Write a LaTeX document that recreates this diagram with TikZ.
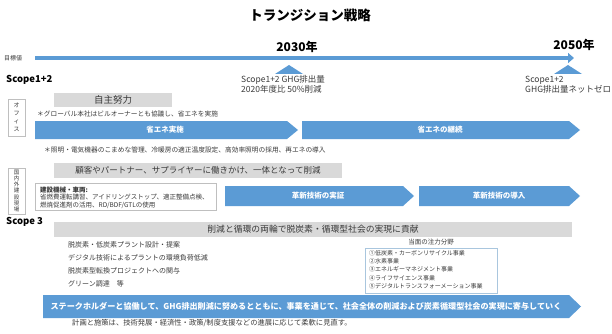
\documentclass[tikz,border=0pt]{standalone}
\usepackage{fontspec}
\setmainfont{Noto Sans CJK JP}
\usetikzlibrary{arrows.meta}
\definecolor{ablue}{HTML}{5B9BD5}
\definecolor{agray}{HTML}{D9D9D9}
\definecolor{bgray}{HTML}{BFBFBF}
\definecolor{lblue}{HTML}{A9C6DE}
\definecolor{tgray}{HTML}{3A3A3A}
\newcommand{\myfs}[1]{\fontsize{#1}{#1}\selectfont}
\newcommand{\mychev}[5]{\fill[ablue] (#1,#3) -- ({#2-#5},#3) -- (#2,{(#3+#4)/2}) -- ({#2-#5},#4) -- (#1,#4) -- cycle;}
\tikzset{
  lbl/.style={inner sep=0pt, anchor=west, text=tgray},
  graybox/.style={fill=agray, inner sep=0pt, text=tgray},
  sidebox/.style={draw=bgray, line width=0.6pt, fill=white, inner sep=0pt, text=tgray, align=center},
  arrowlbl/.style={inner sep=0pt, text=white, font=\myfs{7.5}\bfseries},
  head/.style={inner sep=0pt, text=black}
}
\begin{document}
\begin{tikzpicture}[x=1pt,y=-1pt]
\useasboundingbox (0,0) rectangle (612,334);
% title
\node[head, font=\myfs{13.5}\bfseries] (title) at (310,15) {トランジション戦略};
% timeline
\node[lbl, font=\myfs{6}] (goal) at (4,58) {目標値};
\coordinate (tl0) at (35,58);
\coordinate (tl1) at (574,58);
\draw[ablue, line width=4.5pt, -{Triangle[length=6pt,width=10pt]}] (tl0) -- (tl1);
\node[head, font=\myfs{12}\bfseries] (y2030) at (297,47) {2030年};
\node[head, font=\myfs{12}\bfseries] (y2050) at (574,45) {2050年};
\fill[ablue] (275,74) -- (289,65) -- (303,74) -- cycle;
\fill[ablue] (554,74) -- (568,65) -- (582,74) -- cycle;
\node[lbl, font=\fontsize{8.5}{10.5}\selectfont, align=left] (t2030) at (241,84.5) {Scope1+2 GHG排出量\\2020年度比 50\%削減};
\node[lbl, font=\fontsize{8.5}{10.5}\selectfont, align=left] (t2050) at (525,84.5) {Scope1+2\\GHG排出量ネットゼロ};
% Scope1+2
\node[head, anchor=west, font=\myfs{9.5}\bfseries] (s12) at (6,80) {Scope1+2};
\node[sidebox, minimum width=17pt, minimum height=37pt, font=\fontsize{6}{8}\selectfont] (office) at (16.5,117.5) {オ\\フ\\ィ\\ス};
\node[graybox, minimum width=118pt, minimum height=14pt, font=\myfs{9.5}] (jishu) at (113,100) {自主努力};
\node[lbl, font=\myfs{6.7}] (note1) at (37,114) {＊グローバル本社はビルオーナーとも協議し、省エネを実施};
\mychev{35}{298}{121}{139}{11}
\node[arrowlbl] (a1) at (165,130) {省エネ実施};
\mychev{302}{580}{121}{139}{11}
\node[arrowlbl] (a2) at (440,130) {省エネの継続};
\node[lbl, font=\myfs{6.7}] (note2) at (44,150) {＊照明・電気機器のこまめな管理、冷暖房の適正温度設定、高効率照明の採用、再エネの導入};
% site
\node[sidebox, minimum width=17pt, minimum height=46pt, font=\fontsize{5.5}{6.2}\selectfont] (site) at (16.5,191) {国\\内\\外\\建\\設\\現\\場};
\node[graybox, minimum width=288pt, minimum height=15pt, font=\myfs{8.5}] (kokyaku) at (198,170.5) {顧客やパートナー、サプライヤーに働きかけ、一体となって削減};
\node[sidebox, minimum width=181pt, minimum height=27pt] (kikai) at (125.5,197) {};
\node[lbl, anchor=north west, align=left, font=\fontsize{6.5}{7.6}\selectfont] (kikait) at (40,186.5) {\textbf{建設機械・車両:}\\省燃費運転講習、アイドリングストップ、適正整備点検、\\燃焼促進剤の活用、RD/BDF/GTLの使用};
\mychev{225}{414}{186}{206}{11}
\node[arrowlbl] (a3) at (318,196) {革新技術の実証};
\mychev{419}{580}{186}{206}{11}
\node[arrowlbl] (a4) at (499,196) {革新技術の導入};
% Scope 3
\node[head, anchor=west, font=\myfs{9.5}\bfseries] (s3) at (6,222) {Scope 3};
\node[graybox, minimum width=518pt, minimum height=15pt, font=\myfs{8.8}] (junkan) at (313,229.5) {削減と循環の両輪で脱炭素・循環型社会の実現に貢献};
\node[lbl, font=\myfs{7}] (l1) at (68,245) {脱炭素・低炭素プラント設計・提案};
\node[lbl, font=\myfs{7}] (l2) at (68,258) {デジタル技術によるプラントの環境負荷低減};
\node[lbl, font=\myfs{7}] (l3) at (68,271) {脱炭素型転換プロジェクトへの関与};
\node[lbl, font=\myfs{7}] (l4) at (68,284) {グリーン調達　等};
\node[head, text=tgray, font=\myfs{6.5}] (focus) at (431,242.5) {当面の注力分野};
\node[draw=lblue, line width=0.7pt, inner sep=0pt, minimum width=132pt, minimum height=45pt] (fbox) at (431,270.5) {};
\node[lbl, anchor=north west, align=left, font=\fontsize{6}{8.1}\selectfont] (flist) at (369,250.5) {①低炭素・カーボンリサイクル事業\\②水素事業\\③エネルギーマネジメント事業\\④ライフサイエンス事業\\⑤デジタルトランスフォーメーション事業};
\mychev{43}{581}{295}{318}{12}
\node[arrowlbl, font=\myfs{8.1}\bfseries] (a5) at (306,306.5) {ステークホルダーと協働して、GHG排出削減に努めるとともに、事業を通じて、社会全体の削減および炭素循環型社会の実現に寄与していく};
\node[lbl, font=\myfs{7.3}] (note3) at (72,323) {計画と施策は、技術発展・経済性・政策/制度支援などの進展に応じて柔軟に見直す。};
\end{tikzpicture}
\end{document}
